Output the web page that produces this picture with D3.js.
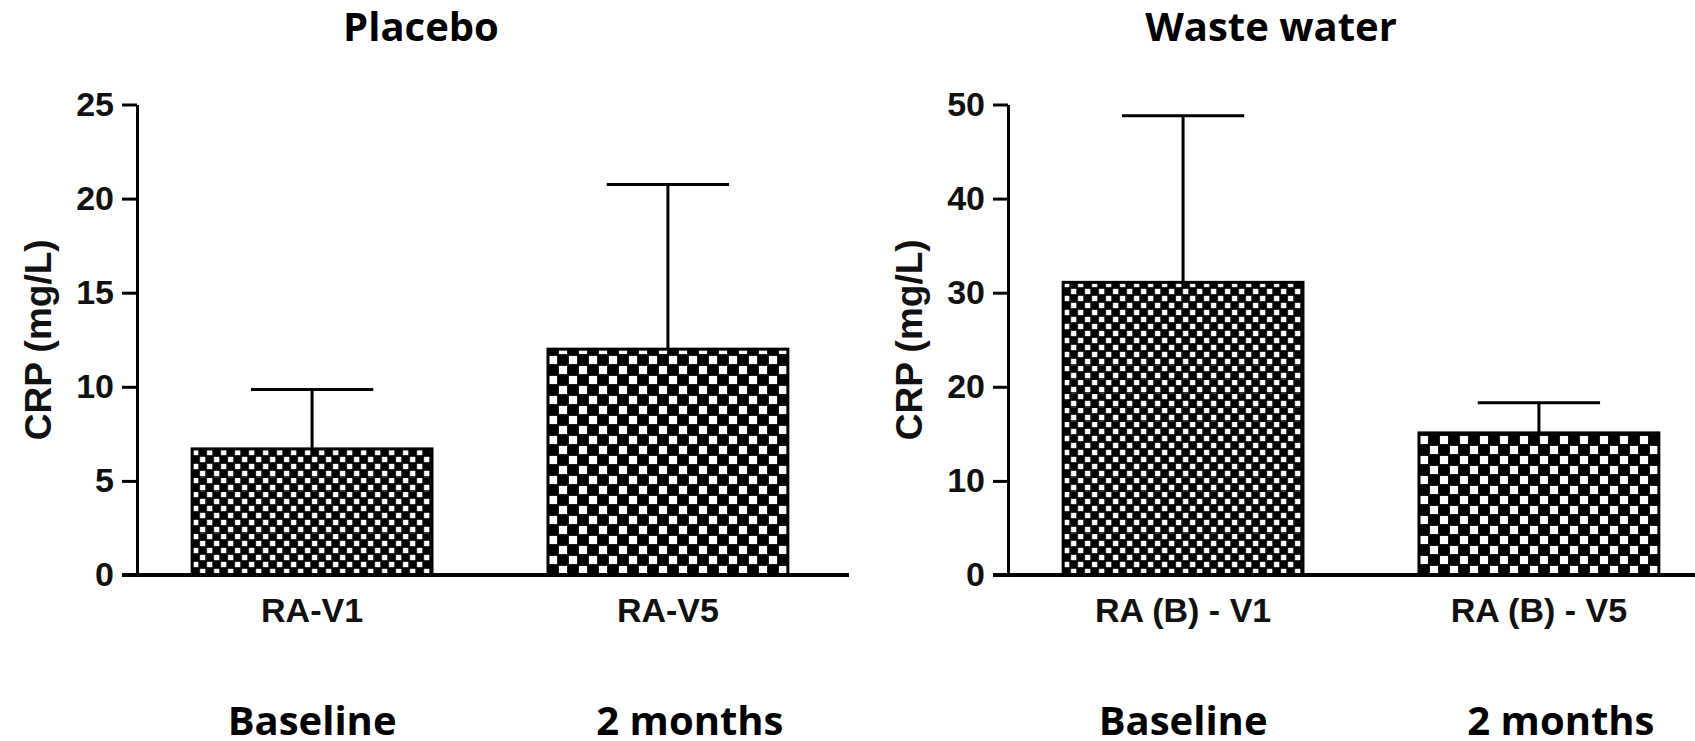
<!doctype html>
<html lang="en">
<head>
    <meta charset="UTF-8">
    <title>CRP placebo vs waste water</title>
    <style>
        body { margin: 0; background: #fff; }
        svg { display: block; }
        .title, .period { font-family: "Open Sans", sans-serif; font-weight: 700; fill: #000; }
        .axis text, .ylabel { font-family: "Liberation Sans", Arial, sans-serif; font-weight: 700; fill: #111; }
        .axis path, .axis line { stroke: #000; stroke-width: 3px; }
        .bar { stroke: #000; stroke-width: 3px; }
        .err { stroke: #000; stroke-width: 3px; fill: none; }
        .baseline { stroke: #000; stroke-width: 4px; }
    </style>
</head>
<body>

<svg width="1695" height="741"></svg>

<script src="https://cdnjs.cloudflare.com/ajax/libs/d3/7.8.5/d3.min.js"></script>
<script>
  // data
  const titles = ['Placebo', 'Waste water']
  const groups = [['RA-V1', 'RA-V5'], ['RA (B) - V1', 'RA (B) - V5']]
  const means = [[6.7, 12.0], [31.1, 15.1]]
  const errors = [[3.15, 8.75], [17.7, 3.2]]
  const yMax = [25, 50]
  const yTicks = [[0, 5, 10, 15, 20, 25], [0, 10, 20, 30, 40, 50]]
  const periods = ['Baseline', '2 months']
  const fills = ['fine', 'coarse']

  // layout
  const panelX = [137, 1008]
  const titleX = [421, 1271]
  const yTop = 104.5
  const yBottom = 575
  const plotW = 712
  const periodShift = [0, 22]

  const svg = d3.select('svg')
  const defs = svg.append('defs')

  // checker patterns: cell size, white square size
  const cells = {fine: [7, 5.4], coarse: [10, 8.2]}

  function makePattern (id, kind, x0, y0) {
    const [c, w] = cells[kind]
    const p = defs.append('pattern')
      .attr('id', id)
      .attr('patternUnits', 'userSpaceOnUse')
      .attr('width', c * 2)
      .attr('height', c * 2)
      .attr('patternTransform', `translate(${x0},${y0})`)
    p.append('rect').attr('width', c * 2).attr('height', c * 2).attr('fill', '#000')
    const off = (c - w) / 2
    ;[[0, 0], [c, c]].forEach(([dx, dy]) => {
      p.append('rect')
        .attr('x', dx + off).attr('y', dy + off)
        .attr('width', w).attr('height', w)
        .attr('fill', '#fff')
    })
  }

  titles.forEach((title, i) => {
    const x0 = panelX[i]
    const g = svg.append('g')

    const y = d3.scaleLinear().domain([0, yMax[i]]).range([yBottom, yTop])
    const x = d3.scaleBand()
      .domain(groups[i])
      .range([x0, x0 + 706])
      .paddingInner(0.326)
      .paddingOuter(0.155)

    // title
    g.append('text')
      .attr('class', 'title')
      .attr('x', titleX[i])
      .attr('y', 41)
      .attr('text-anchor', 'middle')
      .style('font-size', '40px')
      .text(title)

    // bars
    groups[i].forEach((name, j) => {
      const id = `pat-${i}-${j}`
      makePattern(id, fills[j], x(name), yBottom)
      g.append('rect')
        .attr('class', 'bar')
        .attr('x', x(name))
        .attr('y', y(means[i][j]))
        .attr('width', x.bandwidth())
        .attr('height', yBottom - y(means[i][j]))
        .attr('fill', `url(#${id})`)

      // error bar (upper only)
      const cx = x(name) + x.bandwidth() / 2
      const cap = x.bandwidth() * 0.255
      const top = y(means[i][j] + errors[i][j])
      g.append('path')
        .attr('class', 'err')
        .attr('d', `M${cx},${y(means[i][j])}V${top}M${cx - cap},${top}H${cx + cap}`)
    })

    // y axis
    g.append('g')
      .attr('class', 'axis')
      .attr('transform', `translate(${x0},0)`)
      .call(d3.axisLeft(y).tickValues(yTicks[i]).tickSize(15).tickSizeOuter(0).tickPadding(8))
      .call(a => a.selectAll('text').style('font-size', '34px'))

    // x axis labels
    g.append('g')
      .attr('class', 'axis')
      .attr('transform', `translate(0,${yBottom})`)
      .call(d3.axisBottom(x).tickSize(0).tickPadding(23))
      .call(a => a.select('.domain').remove())
      .call(a => a.selectAll('text').style('font-size', '34px'))

    // baseline
    g.append('line')
      .attr('class', 'baseline')
      .attr('x1', x0 - 15)
      .attr('x2', x0 + plotW)
      .attr('y1', yBottom)
      .attr('y2', yBottom)

    // y label
    g.append('text')
      .attr('class', 'ylabel')
      .attr('transform', `translate(${x0 - 86},${(yTop + yBottom) / 2}) rotate(-90)`)
      .attr('text-anchor', 'middle')
      .style('font-size', '37px')
      .text('CRP (mg/L)')

    // time point labels
    groups[i].forEach((name, j) => {
      g.append('text')
        .attr('class', 'period')
        .attr('x', x(name) + x.bandwidth() / 2 + periodShift[j])
        .attr('y', 735)
        .attr('text-anchor', 'middle')
        .style('font-size', '40px')
        .text(periods[j])
    })
  })
</script>
</body>
</html>
